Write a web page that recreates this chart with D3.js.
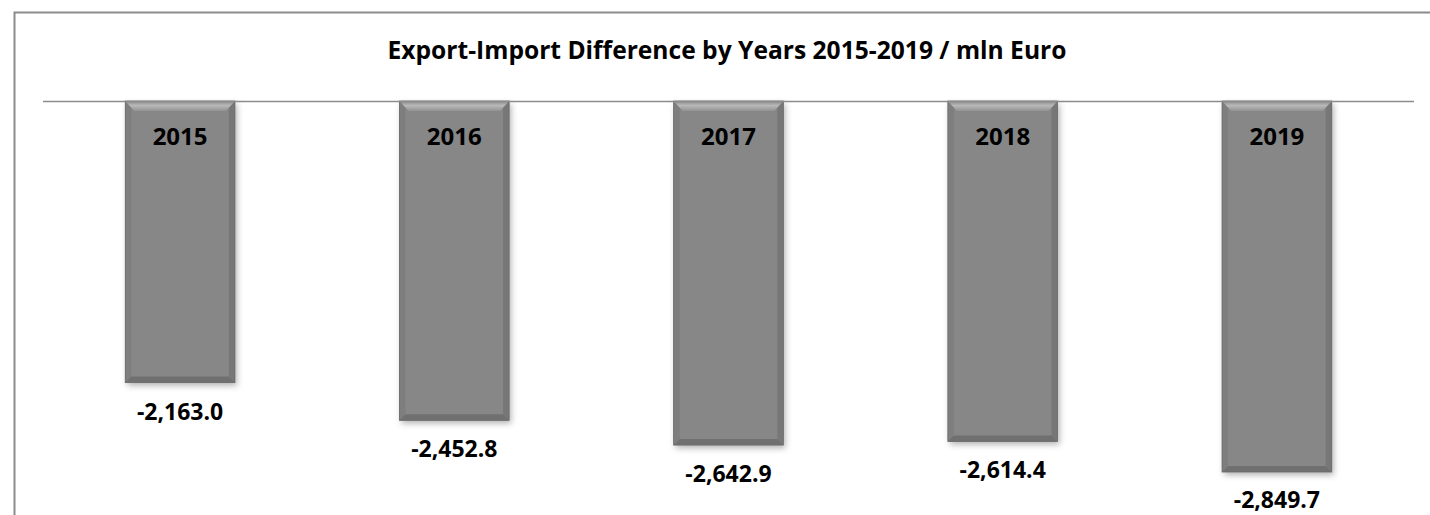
<!DOCTYPE html>
<html><head><meta charset="utf-8">
<script src="https://cdn.jsdelivr.net/npm/d3@7"></script>
<style>html,body{margin:0;padding:0;background:#fff;}svg{display:block;}</style>
</head><body>
<svg id="c" width="1430" height="515"></svg>
<script>
const years = ["2015","2016","2017","2018","2019"];
const values = [-2163.0, -2452.8, -2642.9, -2614.4, -2849.7];
const title = "Export-Import Difference by Years 2015-2019 / mln Euro";

const svg = d3.select("#c");
const W = 1430, H = 515;
const plot = {left: 43, right: 1414, top: 101};
const x = d3.scaleBand().domain(years).range([plot.left, plot.right]).paddingInner(0.6).paddingOuter(0.3);
const y = d3.scaleLinear().domain([0, -1000]).range([plot.top, plot.top + 130.2]);

const defs = svg.append("defs");
const f = defs.append("filter").attr("id","sh").attr("x","-20%").attr("y","-10%").attr("width","150%").attr("height","130%");
f.append("feDropShadow").attr("dx",2).attr("dy",3).attr("stdDeviation",3).attr("flood-color","#000").attr("flood-opacity",0.3);
const gTop = defs.append("linearGradient").attr("id","gt").attr("x1",0).attr("y1",0).attr("x2",0).attr("y2",1);
gTop.append("stop").attr("offset",0).attr("stop-color","#8a8a8a");
gTop.append("stop").attr("offset",0.45).attr("stop-color","#b8b8b8");
gTop.append("stop").attr("offset",1).attr("stop-color","#939393");

// chart border
svg.append("path").attr("d", `M14.5,${H+2} V12.5 H${W+2}`).attr("fill","none").attr("stroke","#8c8c8c").attr("stroke-width",2);

// title
svg.append("text").attr("x", 727).attr("y", 59).attr("text-anchor","middle")
  .attr("font-family","'Open Sans', sans-serif").attr("font-weight","bold").attr("font-size",24.6)
  .attr("fill","#000").text(title);

// bars
const bw = x.bandwidth();
const bars = svg.append("g").selectAll("g").data(years).join("g");
bars.each(function(d,i){
  const g = d3.select(this);
  const x0 = x(d), x1 = x0 + bw, y0 = y(0), y1 = y(values[i]);
  const b = 6;
  g.append("rect").attr("x",x0).attr("y",y0).attr("width",bw).attr("height",y1-y0)
    .attr("fill","#878787").attr("filter","url(#sh)");
  g.append("polygon").attr("points",`${x0},${y0} ${x0+b},${y0+b} ${x0+b},${y1-b} ${x0},${y1}`).attr("fill","#7e7e7e");
  g.append("polygon").attr("points",`${x1},${y0} ${x1-b},${y0+b} ${x1-b},${y1-b} ${x1},${y1}`).attr("fill","#777");
  g.append("polygon").attr("points",`${x0},${y1} ${x0+b},${y1-b} ${x1-b},${y1-b} ${x1},${y1}`).attr("fill","#707070");
  g.append("polygon").attr("points",`${x0},${y0} ${x1},${y0} ${x1-b-3},${y0+b+4} ${x0+b+3},${y0+b+4}`).attr("fill","url(#gt)");
  g.append("rect").attr("x",x0).attr("y",y0).attr("width",bw).attr("height",y1-y0)
    .attr("fill","none").attr("stroke","#6a6a6a").attr("stroke-width",0.8);
});

// baseline
svg.append("line").attr("x1",plot.left).attr("x2",plot.right).attr("y1",y(0)+0.5).attr("y2",y(0)+0.5)
  .attr("stroke","#8c8c8c").attr("stroke-width",1.5);

// year labels
svg.append("g").selectAll("text").data(years).join("text")
  .attr("x", d => x(d) + bw/2).attr("y", y(0) + 44).attr("text-anchor","middle")
  .attr("font-family","'Open Sans', sans-serif").attr("font-weight","bold").attr("font-size",24)
  .attr("fill","#000").text(d => d);

// value labels
const fmt = d3.format(",.1f");
svg.append("g").selectAll("text").data(values).join("text")
  .attr("x", (d,i) => x(years[i]) + bw/2).attr("y", d => Math.min(y(d) + 37, H - 7)).attr("text-anchor","middle")
  .attr("font-family","'Open Sans', sans-serif").attr("font-weight","bold").attr("font-size",23)
  .attr("fill","#000").text(d => fmt(d).replace("−","-"));
</script>
</body></html>
